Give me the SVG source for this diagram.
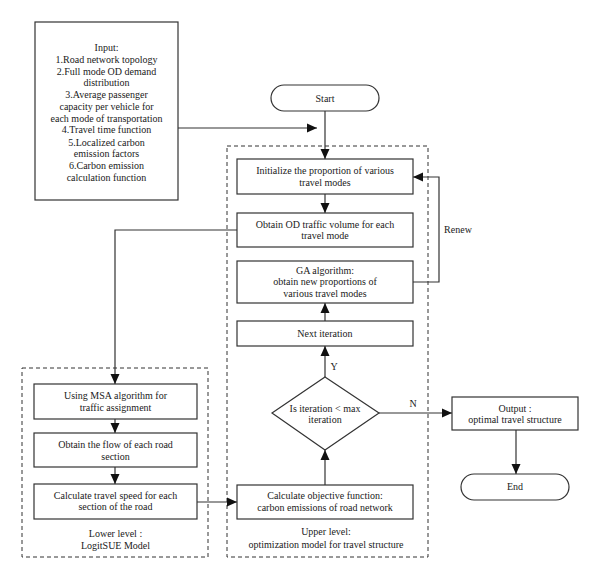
<svg xmlns="http://www.w3.org/2000/svg" width="600" height="579" viewBox="0 0 600 579">
<style>
text{font-family:"Liberation Serif","Times New Roman",serif;font-size:10px;fill:#1a1a1a;text-anchor:middle}
.box{fill:#fff;stroke:#333;stroke-width:1.2}
.dash{fill:none;stroke:#333;stroke-width:1;stroke-dasharray:4 3}
.conn{fill:none;stroke:#333;stroke-width:1.2;marker-end:url(#arr)}
.line{fill:none;stroke:#333;stroke-width:1.2}
</style>
<defs>
<marker id="arr" markerUnits="userSpaceOnUse" markerWidth="10" markerHeight="10" refX="10" refY="5" orient="auto">
<path d="M0,0.5 L10,5 L0,9.5 z" fill="#111"/>
</marker>
</defs>
<rect width="600" height="579" fill="#fff"/>
<g id="containers">
<rect class="dash" x="227" y="146" width="201" height="411"/>
<rect class="dash" x="22" y="368" width="186" height="189"/>
</g>
<g id="connectors">
<path class="conn" d="M178,128 H317"/>
<path class="conn" d="M325,111 V159"/>
<path class="conn" d="M325,194 V213"/>
<path class="conn" d="M237,230 H115 V384"/>
<path class="conn" d="M115,419 V433"/>
<path class="conn" d="M115,467 V484"/>
<path class="conn" d="M197,502 H237"/>
<path class="conn" d="M325,485 V450"/>
<path class="conn" d="M325,377 V346"/>
<path class="conn" d="M325,321 V303"/>
<path class="conn" d="M413,282 H439 V177 H413"/>
<path class="conn" d="M379,413 H452"/>
<path class="conn" d="M516,430 V474"/>
<text x="458" y="233">Renew</text>
<text x="334" y="370">Y</text>
<text x="413" y="407">N</text>
</g>
<g id="input">
<rect class="box" x="35" y="22" width="143" height="178"/>
<text x="106.5" y="51">Input:</text>
<text x="106.5" y="63">1.Road network topology</text>
<text x="106.5" y="74.5">2.Full mode OD demand</text>
<text x="106.5" y="86">distribution</text>
<text x="106.5" y="98">3.Average passenger</text>
<text x="106.5" y="110">capacity per vehicle for</text>
<text x="106.5" y="121.5">each mode of transportation</text>
<text x="106.5" y="133">4.Travel time function</text>
<text x="106.5" y="145.5">5.Localized carbon</text>
<text x="106.5" y="157">emission factors</text>
<text x="106.5" y="169">6.Carbon emission</text>
<text x="106.5" y="180.5">calculation function</text>
</g>
<g id="start">
<rect class="box" x="271" y="85" width="108" height="26" rx="13"/>
<text x="325" y="101.5">Start</text>
</g>
<g id="init">
<rect class="box" x="237" y="159" width="176" height="35"/>
<text x="325" y="173.5">Initialize the proportion of various</text>
<text x="325" y="185.5">travel modes</text>
</g>
<g id="obtainOD">
<rect class="box" x="237" y="213" width="176" height="34"/>
<text x="325" y="227.5">Obtain OD traffic volume for each</text>
<text x="325" y="239">travel mode</text>
</g>
<g id="ga">
<rect class="box" x="237" y="261" width="176" height="42"/>
<text x="325" y="273.5">GA algorithm:</text>
<text x="325" y="285">obtain new proportions of</text>
<text x="325" y="296.5">various travel modes</text>
</g>
<g id="next">
<rect class="box" x="237" y="321" width="176" height="25"/>
<text x="325" y="336.5">Next iteration</text>
</g>
<g id="decision">
<polygon class="box" points="325,377 379,413 325,450 272,413"/>
<text x="325" y="411.5">Is iteration &lt; max</text>
<text x="325" y="422.5">iteration</text>
</g>
<g id="calcobj">
<rect class="box" x="237" y="485" width="176" height="34"/>
<text x="325" y="498.5">Calculate objective function:</text>
<text x="325" y="510.5">carbon emissions of road network</text>
<text x="326" y="534.5">Upper level:</text>
<text x="326" y="547.5">optimization model for travel structure</text>
</g>
<g id="msa">
<rect class="box" x="34" y="384" width="163" height="35"/>
<text x="115.5" y="399">Using MSA algorithm for</text>
<text x="115.5" y="410.5">traffic assignment</text>
</g>
<g id="flow">
<rect class="box" x="34" y="433" width="163" height="34"/>
<text x="115.5" y="447.5">Obtain the flow of each road</text>
<text x="115.5" y="460">section</text>
</g>
<g id="speed">
<rect class="box" x="34" y="484" width="163" height="35"/>
<text x="115.5" y="499">Calculate travel speed for each</text>
<text x="115.5" y="510">section of the road</text>
<text x="115.5" y="536.5">Lower level :</text>
<text x="115.5" y="548.5">LogitSUE Model</text>
</g>
<g id="output">
<rect class="box" x="452" y="397" width="126" height="33"/>
<text x="515" y="411.5">Output :</text>
<text x="515" y="422.5">optimal travel structure</text>
</g>
<g id="end">
<rect class="box" x="461" y="474" width="108" height="26" rx="13"/>
<text x="515" y="490">End</text>
</g>
</svg>
